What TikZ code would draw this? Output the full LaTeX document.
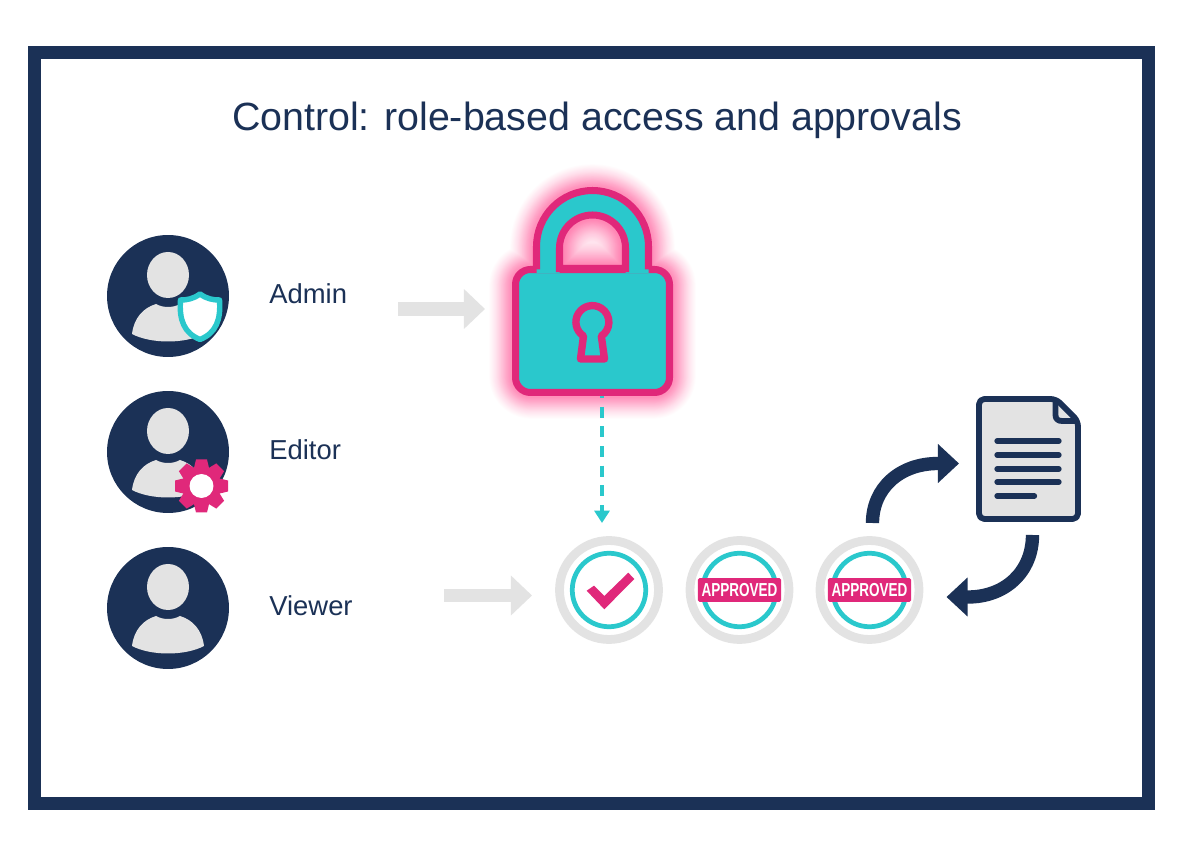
\documentclass[tikz,border=0pt]{standalone}
\usepackage{fontspec}
\setmainfont{Liberation Sans}
\newfontfamily\stampfont[FakeStretch=0.72]{Liberation Sans}
\usetikzlibrary{arrows.meta,positioning}
\definecolor{navy}{HTML}{1B3156}
\definecolor{teal}{HTML}{2AC8CC}
\definecolor{rose}{HTML}{E0287A}
\definecolor{glowpink}{HTML}{FF4F93}
\definecolor{lightgrey}{HTML}{E3E3E3}
\tikzset{
  x=0.02cm, y=-0.02cm,
  avatar/.style={circle, fill=navy, minimum size=2.44cm, inner sep=0pt},
  rolelabel/.style={text=navy, font=\fontsize{15.6}{18}\selectfont, anchor=west, inner sep=0pt},
  stepring/.style={circle, draw=lightgrey, line width=5pt, fill=white, minimum size=1.98cm, inner sep=0pt},
  tealring/.style={circle, draw=teal, line width=2.7pt, minimum size=1.47cm, inner sep=0pt},
  stamp/.style={fill=rose, text=white, inner sep=0pt, rounded corners=1pt, minimum width=1.67cm, minimum height=0.48cm, font=\stampfont\fontsize{10.7}{13}\bfseries\selectfont},
  greyarrow/.style={draw=lightgrey, line width=7.8pt, -{Triangle[length=12pt,width=22pt]}},
  looparrow/.style={draw=navy, line width=7.6pt, -{Triangle[length=12pt,width=21.5pt]}},
}
\begin{document}
\begin{tikzpicture}
  \useasboundingbox (0,0) rectangle (1184,864);
  \fill[white] (0,0) rectangle (1184,864);
  \draw[navy, line width=7.4pt] (34.5,52.5) rectangle (1148.5,803.5);
  \node[text=navy, font=\fontsize{22.4}{26}\selectfont] (title) at (597,120) {Control: role-based access and approvals};
  % roles
  \foreach \name/\ypos/\txt in {admin/296/Admin, editor/452/Editor, viewer/608/Viewer} {
    \node[avatar] (\name) at (168,\ypos) {};
    \fill[lightgrey] (168,\ypos-21) ellipse (21 and 23);
    \fill[lightgrey] (132,\ypos+38) .. controls (134,\ypos+22) and (143,\ypos+12) .. (156,\ypos+8) .. controls (163,\ypos+12) and (173,\ypos+12) .. (180,\ypos+8) .. controls (193,\ypos+12) and (202,\ypos+22) .. (204,\ypos+38) .. controls (185,\ypos+48) and (151,\ypos+48) .. (132,\ypos+38) -- cycle;
    \node[rolelabel] (\name label) at (269,\ypos-2) {\txt};
  }
  % shield
  \filldraw[fill=white, draw=teal, line width=3.1pt, line join=round] (200,294) .. controls (207,299) and (213,300) .. (219.5,300) .. controls (221,320) and (216,333) .. (200,339.5) .. controls (184,333) and (179,320) .. (180.5,300) .. controls (187,300) and (193,299) .. (200,294) -- cycle;
  % gear
  \node[circle, fill=rose, minimum size=0.78cm, inner sep=0pt] (gear) at (201.5,486) {};
  \foreach \a in {0,45,...,315}
    \fill[rose, rotate around={\a:(201.5,486)}] (196,459.5) -- (207,459.5) -- (210,472) -- (193,472) -- cycle;
  \node[circle, fill=white, minimum size=0.48cm, inner sep=0pt] (gearhole) at (201.5,486) {};
  % lock
  \foreach \w/\o in {30/0.012,29/0.012,28/0.015,27/0.015,26/0.018,25/0.018,24/0.02,23/0.02,22/0.025,21/0.025,20/0.03,19/0.03,18/0.035,17/0.035,16/0.04,15/0.04,14/0.045,13/0.045,12/0.05,11/0.05,10/0.05,9/0.05,8/0.05,7/0.05,6/0.05}
    \draw[glowpink, opacity=\o, line width=\w pt, line join=round]
      (536.5,269.5) -- (536.5,246.5) arc (180:360:56) -- (648.5,269.5)
      (559.5,268.5) -- (559.5,248) arc (180:360:33) -- (625.5,268.5)
      [rounded corners=9pt] (515.5,269.5) rectangle (669.5,392.5);
  \fill[glowpink, opacity=0.15] (559.5,268.5) -- (559.5,248) arc (180:360:33) -- (625.5,268.5) -- cycle;
  \coordinate (lockout) at (602,387);
  \coordinate (checkin) at (602,523);
  \draw[draw=teal, line width=2.3pt, dash pattern=on 6.2pt off 5pt, -{Triangle[length=7pt,width=8.5pt]}] (lockout) -- (checkin);
  \node[draw=rose, fill=teal, line width=4pt, rounded corners=8.5pt, minimum width=3.08cm, minimum height=2.46cm, inner sep=0pt] (lock) at (592.5,331) {};
  \fill[teal] (536.5,273) -- (536.5,246.5) arc (180:360:56) -- (648.5,273) -- (625.5,273) -- (625.5,248) arc (360:180:33) -- (559.5,273) -- cycle;
  \draw[rose, line width=4pt] (536.5,269.5) -- (536.5,246.5) arc (180:360:56) -- (648.5,269.5);
  \draw[rose, line width=4pt, line join=miter] (559.5,268.5) -- (559.5,248) arc (180:360:33) -- (625.5,268.5) -- cycle;
  \draw[rose, line width=4.2pt, line join=round] (583.5,336) arc (122.7:417.3:16.5) -- (604.5,359) -- (580.5,359) -- cycle;
  % steps
  \foreach \name/\xpos in {checkstep/609, firststamp/739.5, secondstamp/869.5} {
    \node[stepring] (\name) at (\xpos,590) {};
    \node[tealring] at (\name) {};
  }
  \fill[rose] (586.7,590.7) -- (594,585.7) -- (604.3,596) -- (628.3,572.7) -- (634.3,579) -- (604.3,609.3) -- cycle;
  \node[stamp] (firstlabel) at (firststamp) {APPROVED};
  \node[stamp] (secondlabel) at (secondstamp) {APPROVED};
  % document
  \filldraw[fill=lightgrey, draw=navy, line width=3.3pt, line join=round, rounded corners=3pt] (979,399) -- (1056,399) -- (1078,421) -- (1078,519) -- (979,519) -- cycle;
  \draw[navy, line width=3.3pt, line join=round] (1055.5,400) -- (1055.5,415) .. controls (1055.5,419) and (1058,421) .. (1062,421) -- (1077,421);
  \foreach \yy/\xend in {441/1059, 455/1059, 469/1059, 482/1059, 496/1034.5}
    \draw[navy, line width=3pt, line cap=round] (997,\yy) -- (\xend,\yy);
  % connectors
  \coordinate (adminfrom) at (398,309);
  \coordinate (adminto) at (485,309);
  \coordinate (viewerfrom) at (444,595.5);
  \coordinate (viewerto) at (532,595.5);
  \draw[greyarrow] (adminfrom) -- (adminto);
  \draw[greyarrow] (viewerfrom) -- (viewerto);
  \coordinate (upfrom) at (872.5,523);
  \coordinate (upto) at (959,463.5);
  \coordinate (downfrom) at (1032.5,535);
  \coordinate (downto) at (946.5,597);
  \draw[looparrow] (upfrom) .. controls (872.5,488) and (900,463.5) .. (938,463.5) -- (upto);
  \draw[looparrow] (downfrom) .. controls (1032.5,572) and (1005,597) .. (968,597) -- (downto);
\end{tikzpicture}
\end{document}
